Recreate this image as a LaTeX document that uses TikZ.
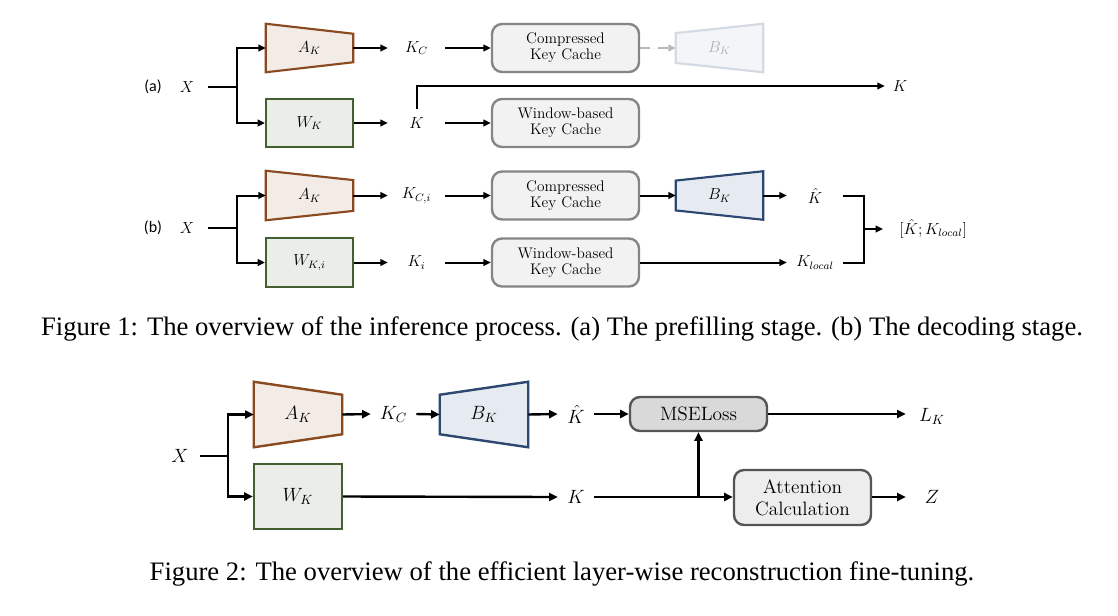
\documentclass[tikz,border=0pt]{standalone}
\usepackage{fontspec}
\usepackage{amsmath}
\newfontfamily\capfont{Liberation Serif}
\newfontfamily\calfont{Carlito}
\usetikzlibrary{arrows.meta,backgrounds,calc}
\definecolor{akd}{HTML}{8A4A1F}
\definecolor{akf}{HTML}{F3EBE5}
\definecolor{wkd}{HTML}{435F30}
\definecolor{wkf}{HTML}{EBEEE8}
\definecolor{bkd}{HTML}{2C4770}
\definecolor{bkf}{HTML}{E6EBF1}
\definecolor{cd}{HTML}{858585}
\definecolor{cf}{HTML}{F2F2F2}
\definecolor{md}{HTML}{555555}
\definecolor{mf}{HTML}{D9D9D9}
\definecolor{af}{HTML}{EDEDED}
\definecolor{fbd}{HTML}{D3DAE3}
\definecolor{fbf}{HTML}{F3F5F8}
\definecolor{ftx}{HTML}{B0B0B0}
\definecolor{dsh}{HTML}{B8B8B8}
\newcommand\trapshrink[5]{%
  \begin{scope}[on background layer]
  \filldraw[fill=#3,draw=#4,line width=#5] (#1.north west) -- ([yshift=-#2]#1.north east) -- ([yshift=#2]#1.south east) -- (#1.south west) -- cycle;
  \end{scope}}
\newcommand\trapgrow[5]{%
  \begin{scope}[on background layer]
  \filldraw[fill=#3,draw=#4,line width=#5] ([yshift=-#2]#1.north west) -- (#1.north east) -- (#1.south east) -- ([yshift=#2]#1.south west) -- cycle;
  \end{scope}}
\begin{document}
\begin{tikzpicture}[x=0.75pt,y=-0.75pt,
  fa/.style={font=\fontsize{11.5}{13}\selectfont},
  fb/.style={font=\fontsize{14}{16}\selectfont},
  arrA/.style={-{Triangle[length=5.5pt,width=5pt]}, line width=1.5pt},
  lnA/.style={line width=1.5pt},
  arrB/.style={-{Triangle[length=6.5pt,width=6pt]}, line width=1.8pt},
  lnB/.style={line width=1.8pt},
  lblA/.style={fa, inner sep=0pt, minimum width=42.75pt, minimum height=12pt},
  rlbl/.style={fa, inner sep=0pt, minimum width=42pt, minimum height=12pt},
  trapA/.style={fa, inner sep=0pt, minimum width=65.25pt, minimum height=36pt},
  trapAb/.style={fa, inner sep=0pt, minimum width=65.25pt, minimum height=36.75pt},
  cache/.style={draw=cd, fill=cf, line width=1.8pt, rounded corners=7.5pt,
     minimum width=110.25pt, minimum height=36pt, inner sep=0pt, align=center,
     font=\fontsize{11.5}{12}\selectfont},
  trapB/.style={fb, inner sep=0pt, minimum width=66pt, minimum height=48.75pt},
  lblB/.style={fb, inner sep=0pt, minimum width=27pt, minimum height=12pt},
  gbox/.style={draw=md, line width=1.8pt, rounded corners=7.5pt,
     minimum width=102.75pt, inner sep=0pt, align=center,
     font=\fontsize{14.5}{16.5}\selectfont},
  capt/.style={font=\capfont\fontsize{20}{24}\selectfont, anchor=base, inner sep=0pt},
  tag/.style={font=\calfont\fontsize{12}{14}\selectfont, inner sep=0pt}
]
\useasboundingbox (0,0) rectangle (1118,615);

%% ---------------- Figure 1 (a) ----------------
\node[tag] (la) at (153,87) {(a)};
\node[fa, inner sep=0pt, minimum width=31.5pt] (xa) at (187,87) {$X$};
\coordinate (ja) at (237,87);
\node[trapA] (aka) at (309.5,48) {$A_K$};
\trapshrink{aka}{7.5pt}{akf}{akd}{1.6pt}
\node[trapA, draw=wkd, fill=wkf, line width=1.6pt] (wka) at (309.5,123) {$W_K$};
\draw[lnA] (xa.east) -- (ja);
\draw[arrA] (ja) |- (aka.west);
\draw[arrA] (ja) |- (wka.west);
\node[lblA] (kca) at (416.5,48) {$K_C$};
\node[lblA] (ka) at (416.5,123) {$K$};
\draw[arrA] (aka.east) -- (kca.west);
\draw[arrA] (wka.east) -- (ka.west);
\node[cache] (cca) at (565.5,48) {Compressed\\Key Cache};
\node[cache] (wba) at (565.5,123) {Window-based\\Key Cache};
\draw[arrA] (kca.east) -- (cca.west);
\draw[arrA] (ka.east) -- (wba.west);
\node[fa, inner sep=0pt, minimum width=65.25pt, minimum height=36pt, text=ftx] (bka) at (719.5,48) {$B_K$};
\trapgrow{bka}{7pt}{fbf}{fbd}{1.6pt}
\draw[arrA, draw=dsh, fill=dsh, dash pattern=on 7.5pt off 6pt] (cca.east) -- (bka.west);
\node[fa, inner sep=0pt, minimum width=22.5pt] (kout) at (900,86) {$K$};
\draw[arrA] ([yshift=4.5pt]ka.north) |- (kout.west);

%% ---------------- Figure 1 (b) ----------------
\node[tag] (lb) at (153,228) {(b)};
\node[fa, inner sep=0pt, minimum width=31.5pt] (xb) at (187,228) {$X$};
\coordinate (jb) at (237,228);
\node[trapAb] (akb) at (309.5,195.5) {$A_K$};
\trapshrink{akb}{7pt}{akf}{akd}{1.6pt}
\node[trapAb, draw=wkd, fill=wkf, line width=1.6pt] (wkb) at (309.5,262.5) {$W_{K,i}$};
\draw[lnA] (xb.east) -- (jb);
\draw[arrA] (jb) |- (akb.west);
\draw[arrA] (jb) |- (wkb.west);
\node[lblA] (kcb) at (416.5,195.5) {$K_{C,i}$};
\node[lblA] (kb) at (416.5,262.5) {$K_i$};
\draw[arrA] (akb.east) -- (kcb.west);
\draw[arrA] (wkb.east) -- (kb.west);
\node[cache] (ccb) at (565.5,195.5) {Compressed\\Key Cache};
\node[cache] (wbb) at (565.5,262.5) {Window-based\\Key Cache};
\draw[arrA] (kcb.east) -- (ccb.west);
\draw[arrA] (kb.east) -- (wbb.west);
\node[fa, inner sep=0pt, minimum width=65.25pt, minimum height=36pt] (bkb) at (719.5,195.5) {$B_K$};
\trapgrow{bkb}{7pt}{bkf}{bkd}{1.6pt}
\draw[arrA] (ccb.east) -- (bkb.west);
\node[rlbl] (khb) at (815,195.5) {$\hat{K}$};
\node[rlbl] (klb) at (815,262.5) {$K_{local}$};
\draw[arrA] (bkb.east) -- (khb.west);
\draw[arrA] (wbb.east) -- (klb.west);
\coordinate (bj) at (864,229);
\draw[lnA] (khb.east) -| (bj) |- (klb.east);
\node[fa, inner sep=0pt, anchor=west] (cat) at (899,229) {$[\hat{K};K_{local}]$};
\draw[arrA] (bj) -- ([xshift=-12pt]cat.west);

%% ---------------- Figure 1 caption ----------------
\node[capt] (cap1) at (562,335) {Figure 1: The overview of the inference process. (a) The prefilling stage. (b) The decoding stage.};

%% ---------------- Figure 2 ----------------
\node[fb, inner sep=0pt, minimum width=30pt] (x2) at (180,456) {$X$};
\coordinate (j2) at (228,456);
\node[trapB] (ak2) at (298,414.5) {$A_K$};
\trapshrink{ak2}{9.75pt}{akf}{akd}{1.8pt}
\node[trapB, draw=wkd, fill=wkf, line width=1.8pt] (wk2) at (298,496.5) {$W_K$};
\draw[lnB] (x2.east) -- (j2);
\draw[arrB] (j2) |- (ak2.west);
\draw[arrB] (j2) |- (wk2.west);
\node[fb, inner sep=0pt, minimum width=33.75pt] (kc2) at (393.5,414) {$K_C$};
\draw[arrB] (ak2.east) -- (kc2.west);
\node[trapB] (bk2) at (484,414.5) {$B_K$};
\trapgrow{bk2}{9.75pt}{bkf}{bkd}{1.8pt}
\draw[arrB] (kc2.east) -- (bk2.west);
\node[lblB] (kh2) at (576,414) {$\hat{K}$};
\draw[arrB] (bk2.east) -- (kh2.west);
\node[gbox, fill=mf, minimum height=25.5pt] (mse) at (698.5,414) {MSELoss};
\draw[arrB] (kh2.east) -- (mse.west);
\node[fb, inner sep=0pt, minimum width=39pt] (lk) at (932,416) {$L_K$};
\draw[arrB] (mse.east) -- (lk.west |- mse.east);
\node[lblB] (k2) at (576,497) {$K$};
\draw[arrB] (wk2.east) -- (k2.west);
\node[gbox, fill=af, minimum height=41.25pt] (att) at (802.5,497.5) {Attention\\Calculation};
\draw[arrB] (k2.east) -- (att.west |- k2.east);
\draw[arrB] (mse.south |- k2.east) -- (mse.south);
\node[fb, inner sep=0pt, minimum width=39pt] (z2) at (932,497) {$Z$};
\draw[arrB] (att.east |- z2.west) -- (z2.west);

%% ---------------- Figure 2 caption ----------------
\node[capt] (cap2) at (562,580) {Figure 2: The overview of the efficient layer-wise reconstruction fine-tuning.};
\end{tikzpicture}
\end{document}
